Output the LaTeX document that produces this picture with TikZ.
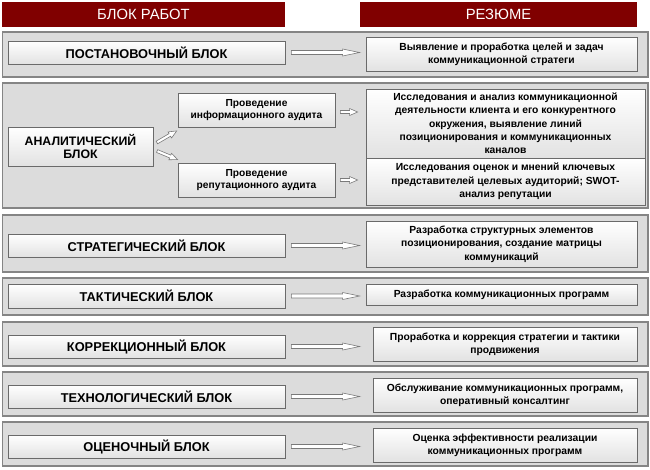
\documentclass[tikz,border=0pt]{standalone}
\usepackage{fontspec}
\setmainfont{Liberation Sans}
\usetikzlibrary{calc}
\definecolor{hdr}{HTML}{800000}
\definecolor{bandfill}{HTML}{DCDCDC}
\definecolor{bandline}{HTML}{858585}
\definecolor{boxline}{HTML}{6A6A6A}
\definecolor{boxbot}{HTML}{E2E2E2}
\definecolor{arrline}{HTML}{7A7A7A}
% #1 start, #2 end, #3 shaft half width, #4 head half width, #5 head length, #6 start gap, #7 end gap
\newcommand\blkarrow[7]{%
  \draw[arrsty] let \p1=($(#2)-(#1)$), \n1={veclen(\x1,\y1)}, \n2={atan2(\y1,\x1)} in
    ([shift={(#1)},rotate=\n2]#6,#3)
 -- ([shift={(#1)},rotate=\n2]{\n1-#7-#5},#3)
 -- ([shift={(#1)},rotate=\n2]{\n1-#7-#5},#4)
 -- ([shift={(#1)},rotate=\n2]{\n1-#7},0pt)
 -- ([shift={(#1)},rotate=\n2]{\n1-#7-#5},-#4)
 -- ([shift={(#1)},rotate=\n2]{\n1-#7-#5},-#3)
 -- ([shift={(#1)},rotate=\n2]#6,-#3) -- cycle;}
\tikzset{
  arrsty/.style={draw=arrline, fill=white, line width=0.6pt, line join=miter},
  band/.style={draw=bandline, fill=bandfill, line width=1.1pt, inner sep=0pt},
  hbox/.style={fill=hdr, text=white, inner sep=0pt, font=\fontsize{14.8}{17}\selectfont},
  boxbase/.style={draw=boxline, line width=0.8pt, top color=white, bottom color=boxbot, inner sep=0pt, align=center},
  lbox/.style={boxbase, font=\bfseries\fontsize{12.8}{13.5}\selectfont},
  anbox/.style={boxbase, font=\bfseries\fontsize{12.3}{13.5}\selectfont},
  abox/.style={boxbase, font=\bfseries\fontsize{10.2}{12}\selectfont},
  rbox/.style={boxbase, font=\bfseries\fontsize{10.3}{13.3}\selectfont},
}
\begin{document}
\begin{tikzpicture}[x=1pt,y=-1pt]
\useasboundingbox[fill=white] (0,0) rectangle (650,469);
% headers
\node[hbox, minimum width=283pt, minimum height=25pt] (h1) at (143.5,14.5) {БЛОК РАБОТ};
\node[hbox, minimum width=277pt, minimum height=25pt] (h2) at (498.5,14.5) {РЕЗЮМЕ};
% bands
\node[band, minimum width=645.5pt, minimum height=45pt] (b1) at (325.25,54.5) {};
\node[band, minimum width=645.5pt, minimum height=125pt] (b2) at (325.25,145.5) {};
\node[band, minimum width=645.5pt, minimum height=57pt] (b3) at (325.25,243.5) {};
\node[band, minimum width=645.5pt, minimum height=37pt] (b4) at (325.25,296.5) {};
\node[band, minimum width=645.5pt, minimum height=44pt] (b5) at (325.25,344) {};
\node[band, minimum width=645.5pt, minimum height=44pt] (b6) at (325.25,394) {};
\node[band, minimum width=645.5pt, minimum height=44pt] (b7) at (325.25,444) {};
% left boxes
\node[lbox, minimum width=277pt, minimum height=23pt] (l1) at (146.5,52.5) {ПОСТАНОВОЧНЫЙ БЛОК};
\node[anbox, minimum width=145pt, minimum height=39pt] (an) at (80.5,146.5) {АНАЛИТИЧЕСКИЙ\\БЛОК};
\node[abox, minimum width=157pt, minimum height=34pt] (info) at (256.5,110) {Проведение\\информационного аудита};
\node[abox, minimum width=157pt, minimum height=34pt] (rep) at (256.5,180) {Проведение\\репутационного аудита};
\node[lbox, minimum width=277pt, minimum height=23pt] (l3) at (146.5,245.5) {СТРАТЕГИЧЕСКИЙ БЛОК};
\node[lbox, minimum width=277pt, minimum height=24pt] (l4) at (146.5,296) {ТАКТИЧЕСКИЙ БЛОК};
\node[lbox, minimum width=277pt, minimum height=23pt] (l5) at (146.5,346.5) {КОРРЕКЦИОННЫЙ БЛОК};
\node[lbox, minimum width=277pt, minimum height=23pt] (l6) at (146.5,396.5) {ТЕХНОЛОГИЧЕСКИЙ БЛОК};
\node[lbox, minimum width=277pt, minimum height=23pt] (l7) at (146.5,446.5) {ОЦЕНОЧНЫЙ БЛОК};
% right boxes
\node[rbox, minimum width=271pt, minimum height=34pt] (r1) at (501.5,54) {Выявление и проработка целей и задач\\коммуникационной стратеги};
\node[rbox, minimum width=279pt, minimum height=69pt] (ra1) at (505.5,123.5) {Исследования и анализ коммуникационной\\деятельности клиента и его конкурентного\\окружения, выявление линий\\позиционирования и коммуникационных\\каналов};
\node[rbox, minimum width=279pt, minimum height=47pt] (ra2) at (505.5,181.5) {Исследования оценок и мнений ключевых\\представителей целевых аудиторий; SWOT-\\анализ репутации};
\node[rbox, minimum width=271pt, minimum height=46pt] (r3) at (501.5,244) {Разработка структурных элементов\\позиционирования, создание матрицы\\коммуникаций};
\node[rbox, minimum width=271pt, minimum height=21pt] (r4) at (501.5,294.5) {Разработка коммуникационных программ};
\node[rbox, minimum width=264pt, minimum height=34pt] (r5) at (505,344) {Проработка и коррекция стратегии и тактики\\продвижения};
\node[rbox, minimum width=264pt, minimum height=34pt] (r6) at (505,395) {Обслуживание коммуникационных программ,\\оперативный консалтинг};
\node[rbox, minimum width=264pt, minimum height=34pt] (r7) at (505,445) {Оценка эффективности реализации\\коммуникационных программ};
% arrow end points
\coordinate (ia) at ([yshift=-2pt]info.east);
\coordinate (ra) at (rep.east);
\coordinate (d1s) at ([yshift=2pt]an.east);
\coordinate (d1e) at ([yshift=-3pt]info.south west);
\coordinate (d2s) at ([yshift=-3pt]an.east);
\coordinate (d2e) at ([yshift=3pt]rep.north west);
% arrows
\blkarrow{l1.east}{l1.east -| r1.west}{2pt}{3.5pt}{17pt}{6pt}{6pt}
\blkarrow{l3.east}{l3.east -| r3.west}{2pt}{3.5pt}{17pt}{6pt}{6pt}
\blkarrow{l4.east}{l4.east -| r4.west}{2pt}{3.5pt}{17pt}{6pt}{6pt}
\blkarrow{l5.east}{l5.east -| r5.west}{2pt}{3.5pt}{17pt}{6pt}{13pt}
\blkarrow{l6.east}{l6.east -| r6.west}{2pt}{3.5pt}{17pt}{6pt}{13pt}
\blkarrow{l7.east}{l7.east -| r7.west}{2pt}{3.5pt}{17pt}{6pt}{13pt}
\blkarrow{ia}{ia -| ra1.west}{1.5pt}{3.5pt}{8pt}{5pt}{8pt}
\blkarrow{ra}{ra -| ra2.west}{1.5pt}{3.5pt}{8pt}{5pt}{8pt}
\blkarrow{d1s}{d1e}{1.5pt}{3.5pt}{8pt}{4pt}{1pt}
\blkarrow{d2s}{d2e}{1.5pt}{3.5pt}{8pt}{4pt}{0pt}
\end{tikzpicture}
\end{document}
